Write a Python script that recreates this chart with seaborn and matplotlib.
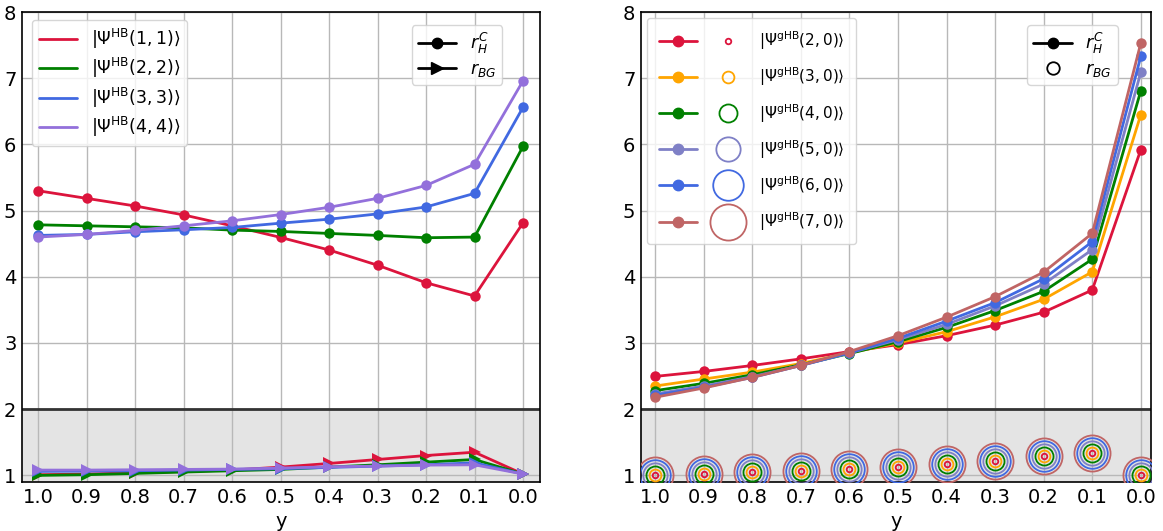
import matplotlib
matplotlib.use("Agg")
import matplotlib.pyplot as plt
import seaborn as sns
import numpy as np
from matplotlib.lines import Line2D
from matplotlib.legend_handler import HandlerTuple

# x values (y parameter)
y_vals = [1.0, 0.9, 0.8, 0.7, 0.6, 0.5, 0.4, 0.3, 0.2, 0.1, 0.0]
y_ticks = [1.0, 0.9, 0.8, 0.7, 0.6, 0.5, 0.4, 0.3, 0.2, 0.1, 0.0]
y_tick_labels = ["1.0", "0.9", "0.8", "0.7", "0.6", "0.5", "0.4", "0.3", "0.2", "0.1", "0.0"]

# left panel: HB states, r_H^C
hb_labels = [r"$|\Psi^{\rm HB}(1,1)\rangle$", r"$|\Psi^{\rm HB}(2,2)\rangle$",
             r"$|\Psi^{\rm HB}(3,3)\rangle$", r"$|\Psi^{\rm HB}(4,4)\rangle$"]
hb_rhc_11 = [5.30, 5.185, 5.07, 4.935, 4.77, 4.595, 4.405, 4.175, 3.91, 3.71, 4.815]
hb_rhc_22 = [4.785, 4.77, 4.755, 4.74, 4.705, 4.685, 4.655, 4.625, 4.59, 4.60, 5.97]
hb_rhc_33 = [4.625, 4.64, 4.68, 4.71, 4.745, 4.81, 4.87, 4.95, 5.055, 5.26, 6.56]
hb_rhc_44 = [4.60, 4.64, 4.70, 4.77, 4.845, 4.94, 5.05, 5.185, 5.38, 5.70, 6.96]
# left panel: r_BG
hb_rbg_11 = [1.01, 1.02, 1.04, 1.06, 1.08, 1.125, 1.18, 1.24, 1.30, 1.35, 1.02]
hb_rbg_22 = [1.00, 1.01, 1.03, 1.05, 1.07, 1.09, 1.125, 1.16, 1.20, 1.24, 1.02]
hb_rbg_33 = [1.06, 1.065, 1.07, 1.08, 1.09, 1.10, 1.12, 1.14, 1.16, 1.19, 1.02]
hb_rbg_44 = [1.08, 1.08, 1.085, 1.09, 1.095, 1.11, 1.13, 1.14, 1.155, 1.16, 1.02]

# right panel: gHB states, r_H^C
ghb_labels = [r"$|\Psi^{\rm gHB}(2,0)\rangle$", r"$|\Psi^{\rm gHB}(3,0)\rangle$",
              r"$|\Psi^{\rm gHB}(4,0)\rangle$", r"$|\Psi^{\rm gHB}(5,0)\rangle$",
              r"$|\Psi^{\rm gHB}(6,0)\rangle$", r"$|\Psi^{\rm gHB}(7,0)\rangle$"]
ghb_rhc_20 = [2.495, 2.57, 2.66, 2.76, 2.87, 2.975, 3.11, 3.27, 3.465, 3.80, 5.92]
ghb_rhc_30 = [2.35, 2.455, 2.56, 2.69, 2.85, 3.00, 3.17, 3.395, 3.66, 4.075, 6.45]
ghb_rhc_40 = [2.28, 2.39, 2.52, 2.67, 2.84, 3.02, 3.235, 3.49, 3.78, 4.265, 6.81]
ghb_rhc_50 = [2.23, 2.35, 2.49, 2.66, 2.85, 3.05, 3.28, 3.56, 3.89, 4.41, 7.09]
ghb_rhc_60 = [2.21, 2.33, 2.48, 2.66, 2.85, 3.07, 3.33, 3.61, 3.97, 4.53, 7.33]
ghb_rhc_70 = [2.18, 2.32, 2.48, 2.66, 2.87, 3.11, 3.39, 3.70, 4.07, 4.655, 7.53]
# right panel: r_BG (same for all gHB states)
ghb_rbg = [1.00, 1.025, 1.045, 1.065, 1.096, 1.13, 1.177, 1.22, 1.29, 1.34, 1.00]

hb_colors = ["crimson", "green", "royalblue", "mediumpurple"]
ghb_colors = ["crimson", "orange", "green", "#7f80c6", "royalblue", "#c06565"]
ghb_circle_sizes = [4, 8.5, 13, 17.5, 22, 26]

sns.set_style("whitegrid")
plt.rcParams["font.family"] = ["DejaVu Sans"]
plt.rcParams["mathtext.fontset"] = "dejavusans"
plt.rcParams["text.color"] = "black"
plt.rcParams["axes.labelcolor"] = "black"
plt.rcParams["xtick.color"] = "black"
plt.rcParams["ytick.color"] = "black"

fig = plt.figure(figsize=(11.63, 5.31), dpi=100)
ax1 = fig.add_axes([22 / 1163, 49 / 531, 518 / 1163, 470 / 531])
ax2 = fig.add_axes([641 / 1163, 49 / 531, 510 / 1163, 470 / 531])


def style_axis(ax, xlim):
    ax.axhspan(0.9, 2.0, color="#e4e4e4", zorder=0)
    ax.axhline(2.0, color="#333333", lw=2, zorder=1)
    ax.set_xlim(*xlim)
    ax.set_ylim(0.9, 8.0)
    ax.set_xticks(y_ticks)
    ax.set_xticklabels(y_tick_labels)
    ax.set_yticks([1, 2, 3, 4, 5, 6, 7, 8])
    ax.tick_params(labelsize=14, direction="in", length=0, pad=4)
    ax.grid(True, color="#b8b8b8", lw=1)
    ax.set_axisbelow(True)
    for sp in ax.spines.values():
        sp.set_color("black")
        sp.set_linewidth(1.2)
    ax.set_xlabel("y", fontsize=14)
    ax.set_ylabel("")


# left panel
hb_rhc = [hb_rhc_11, hb_rhc_22, hb_rhc_33, hb_rhc_44]
hb_rbg = [hb_rbg_11, hb_rbg_22, hb_rbg_33, hb_rbg_44]
for vals, col in zip(hb_rhc, hb_colors):
    sns.lineplot(x=y_vals, y=vals, ax=ax1, color=col, marker="o", markersize=7.5,
                 markeredgecolor=col, markeredgewidth=0, linewidth=2, zorder=3)
for vals, col in zip(hb_rbg, hb_colors):
    sns.lineplot(x=y_vals, y=vals, ax=ax1, color=col, marker=">", markersize=8.5,
                 markeredgecolor=col, markeredgewidth=0, linewidth=2, zorder=3)
style_axis(ax1, (1.033, -0.035))

h1 = [Line2D([], [], color=c, lw=2) for c in hb_colors]
leg1 = ax1.legend(h1, hb_labels, loc="upper left", bbox_to_anchor=(0.019, 0.983),
                  borderaxespad=0, fontsize=12.5, labelspacing=0.3, handlelength=2.2)
ax1.add_artist(leg1)
h2 = [Line2D([], [], color="k", lw=2, marker="o", markersize=7.5),
      Line2D([], [], color="k", lw=2, marker=">", markersize=8.5)]
ax1.legend(h2, [r"$r_H^C$", r"$r_{BG}$"], loc="upper right",
           bbox_to_anchor=(0.927, 0.972), borderaxespad=0, fontsize=12.5,
           labelspacing=0.2, borderpad=0.35, handlelength=2.2)

# right panel
ghb_rhc = [ghb_rhc_20, ghb_rhc_30, ghb_rhc_40, ghb_rhc_50, ghb_rhc_60, ghb_rhc_70]
tuple_handles = []
for vals, col, ms in zip(ghb_rhc, ghb_colors, ghb_circle_sizes):
    sns.lineplot(x=y_vals, y=vals, ax=ax2, color=col, marker="o", markersize=7.5,
                 markeredgecolor=col, markeredgewidth=0, linewidth=2, zorder=3)
    sns.lineplot(x=y_vals, y=ghb_rbg, ax=ax2, color=col, marker="o", linestyle="",
                 markersize=ms, markerfacecolor="none", markeredgecolor=col,
                 markeredgewidth=1.3, zorder=3)
    tuple_handles.append((Line2D([], [], color=col, lw=2, marker="o", markersize=7.5),
                          Line2D([], [], color=col, lw=0, marker="o", markersize=ms,
                                 markerfacecolor="none", markeredgecolor=col,
                                 markeredgewidth=1.3)))
style_axis(ax2, (1.029, -0.021))

leg3 = ax2.legend(tuple_handles, ghb_labels, loc="upper left",
                  bbox_to_anchor=(0.012, 0.987), borderaxespad=0, fontsize=11,
                  handlelength=5.8, labelspacing=0.88, borderpad=0.75,
                  handler_map={tuple: HandlerTuple(ndivide=None, pad=0.8)})
ax2.add_artist(leg3)
h4 = [Line2D([], [], color="k", lw=2, marker="o", markersize=7.5),
      Line2D([], [], color="k", lw=0, marker="o", markersize=9,
             markerfacecolor="none", markeredgecolor="k", markeredgewidth=1.3)]
ax2.legend(h4, [r"$r_H^C$", r"$r_{BG}$"], loc="upper right",
           bbox_to_anchor=(0.935, 0.972), borderaxespad=0, fontsize=12.5,
           labelspacing=0.2, borderpad=0.35, handlelength=2.2)

fig.savefig("out.png", dpi=100)
